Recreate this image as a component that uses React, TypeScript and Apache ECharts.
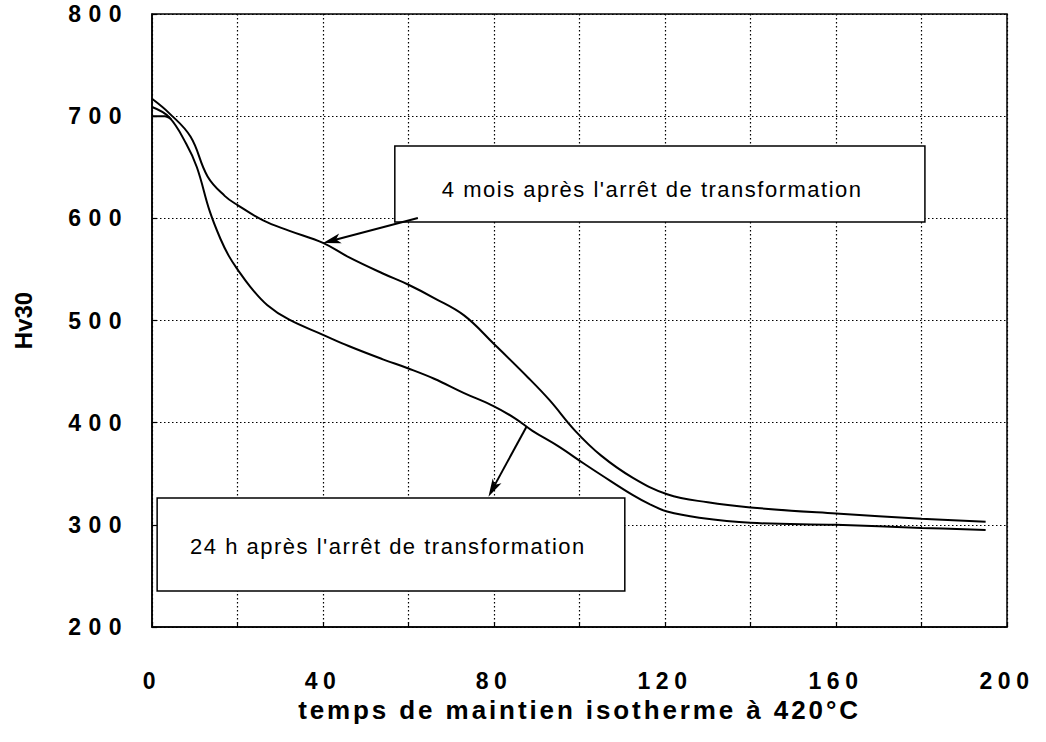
import React, { useEffect, useRef } from "react";
import * as echarts from "echarts";

// ---- axes ----
const X_MIN = 0;
const X_MAX = 200;
const X_STEP = 20;
const Y_MIN = 200;
const Y_MAX = 800;
const Y_STEP = 100;
const xLabelTicks = [0, 40, 80, 120, 160, 200];

const X_TITLE = "temps de maintien isotherme à 420°C";
const Y_TITLE = "Hv30";
const UPPER_NOTE = "4 mois après l'arrêt de transformation";
const LOWER_NOTE = "24 h après l'arrêt de transformation";

// ---- series: 4 mois après l'arrêt ----
const upperTime = [0, 4, 9, 13, 17, 20, 26, 32, 40, 46, 54, 60, 66, 73, 80, 88, 93, 99, 105, 112.5, 120.5, 130, 140, 160, 180, 195];
const upperHv = [717, 703, 680, 641, 622, 613, 598, 588, 576, 562, 546, 535, 522, 505, 477, 444, 422, 392, 368, 346, 330, 322, 317, 311, 306, 303];

// ---- series: 24 h après l'arrêt ----
const lowerTime = [0, 4, 8, 10.5, 13.5, 16, 18, 20, 23, 27, 32, 40, 46, 54, 60, 66, 73, 80, 85, 89, 95, 101, 105, 112.5, 116.5, 120.5, 128, 140, 160, 180, 195];
const lowerHv = [709, 699, 673, 650, 607, 580, 563, 550, 533, 515, 501, 486, 475, 462, 453, 443, 429, 416, 404, 392, 377, 360, 349, 329, 320, 313, 307, 302, 300, 297, 295];

// short starting trace at 700
const startTime = [0, 3, 4.5];
const startHv = [700, 700, 697];

// ---- annotations (data coordinates) ----
const upperBox = [56.8, 670.8, 180.8, 596.4];
const lowerBox = [1.2, 326.3, 110.6, 235.3];
const upperNoteAt = [117, 628.5];
const lowerNoteAt = [55.2, 278.5];
const upperArrow = [[62.2, 600.3], [40, 575.9]];
const lowerArrow = [[87.6, 396.1], [78.7, 327.6]];

const FONT = "'Liberation Sans', Arial, Helvetica, sans-serif";

export default function App() {
  const ref = useRef<HTMLDivElement>(null);
  useEffect(() => {
    const el = ref.current!;
    const chart = echarts.init(el, null, { renderer: "svg" });
    const pair = (xs: number[], ys: number[]) => xs.map((x, i) => [x, ys[i]]);
    const gridLine = { show: true, lineStyle: { color: "#000", width: 1.2, type: [1.5, 2.5] } };
    const lineStyle = { color: "#000", width: 2 };

    chart.setOption({
      animation: false,
      backgroundColor: "#fff",
      grid: { left: 152, right: 39, top: 14, bottom: 115, show: true, borderColor: "#000", borderWidth: 1.5 },
      xAxis: {
        type: "value",
        min: X_MIN,
        max: X_MAX,
        interval: X_STEP,
        axisLine: { show: true, lineStyle: { color: "#000", width: 1.5 } },
        axisTick: { show: true, inside: true, length: 5, lineStyle: { color: "#000", width: 1.2 } },
        axisLabel: {
          formatter: (v: number) => (xLabelTicks.includes(v) ? String(v) : ""),
          margin: 42,
          color: "#000",
          fontFamily: FONT,
          fontWeight: "bold",
          fontSize: 23,
          showMinLabel: true,
          showMaxLabel: true,
        },
        splitLine: gridLine,
        name: X_TITLE,
        nameLocation: "middle",
        nameGap: 68,
        nameTextStyle: { color: "#000", fontFamily: FONT, fontWeight: "bold", fontSize: 26 },
      },
      yAxis: {
        type: "value",
        min: Y_MIN,
        max: Y_MAX,
        interval: Y_STEP,
        axisLine: { show: true, lineStyle: { color: "#000", width: 1.5 } },
        axisTick: { show: true, inside: true, length: 5, lineStyle: { color: "#000", width: 1.2 } },
        axisLabel: {
          margin: 23,
          color: "#000",
          fontFamily: FONT,
          fontWeight: "bold",
          fontSize: 23,
        },
        splitLine: gridLine,
        name: Y_TITLE,
        nameLocation: "middle",
        nameGap: 117,
        nameRotate: 90,
        nameTextStyle: { color: "#000", fontFamily: FONT, fontWeight: "bold", fontSize: 24 },
      },
      series: [
        { type: "line", name: UPPER_NOTE, data: pair(upperTime, upperHv), symbol: "none", smooth: 0.4, lineStyle, z: 3 },
        { type: "line", name: LOWER_NOTE, data: pair(lowerTime, lowerHv), symbol: "none", smooth: 0.4, lineStyle, z: 3 },
        { type: "line", name: "start", data: pair(startTime, startHv), symbol: "none", smooth: 0.3, lineStyle, z: 3 },
      ],
    });

    const px = (p: number[]) => chart.convertToPixel({ gridIndex: 0 }, p) as number[];
    const graphics: any[] = [];
    const addBox = (b: number[]) => {
      const a = px([b[0], b[1]]);
      const c = px([b[2], b[3]]);
      graphics.push({
        type: "rect",
        z: 10,
        shape: { x: a[0], y: a[1], width: c[0] - a[0], height: c[1] - a[1] },
        style: { fill: "#fff", stroke: "#000", lineWidth: 1.5 },
      });
    };
    const addText = (t: string, at: number[]) => {
      const p = px(at);
      graphics.push({
        type: "text",
        z: 11,
        x: p[0],
        y: p[1],
        style: { text: t, fill: "#000", font: `22px ${FONT}`, textAlign: "center", textVerticalAlign: "middle" },
      });
    };
    const addArrow = (ar: number[][]) => {
      const t = px(ar[0]);
      const h = px(ar[1]);
      const dx = h[0] - t[0];
      const dy = h[1] - t[1];
      const len = Math.hypot(dx, dy);
      const ux = dx / len;
      const uy = dy / len;
      const nx = -uy;
      const ny = ux;
      const L = 18;
      const W = 5;
      const bx = h[0] - ux * L;
      const by = h[1] - uy * L;
      graphics.push({
        type: "line",
        z: 12,
        shape: { x1: t[0], y1: t[1], x2: h[0] - ux * L * 0.6, y2: h[1] - uy * L * 0.6 },
        style: { stroke: "#000", lineWidth: 2 },
      });
      graphics.push({
        type: "polygon",
        z: 12,
        shape: {
          points: [
            [h[0], h[1]],
            [bx + nx * W, by + ny * W],
            [h[0] - ux * L * 0.75, h[1] - uy * L * 0.75],
            [bx - nx * W, by - ny * W],
          ],
        },
        style: { fill: "#000" },
      });
    };
    addBox(upperBox);
    addBox(lowerBox);
    addText(UPPER_NOTE, upperNoteAt);
    addText(LOWER_NOTE, lowerNoteAt);
    addArrow(upperArrow);
    addArrow(lowerArrow);
    chart.setOption({ graphic: graphics });

    const applySpacing = () => {
      el.querySelectorAll("text").forEach((node) => {
        const s = node.textContent || "";
        const anchor = node.getAttribute("text-anchor");
        if (/^\d+$/.test(s)) node.setAttribute("letter-spacing", anchor === "end" ? "7.5" : "5.5");
        else if (s === X_TITLE) node.setAttribute("letter-spacing", "2.9");
        else if (s === UPPER_NOTE || s === LOWER_NOTE) node.setAttribute("letter-spacing", "1.5");
      });
    };
    applySpacing();
    chart.on("finished", applySpacing);
    const raf = requestAnimationFrame(applySpacing);
    return () => {
      cancelAnimationFrame(raf);
      chart.dispose();
    };
  }, []);
  return (
    <div
      ref={ref}
      style={{ position: "absolute", left: 0, top: 0, width: 1046, height: 742, background: "#fff" }}
    />
  );
}
